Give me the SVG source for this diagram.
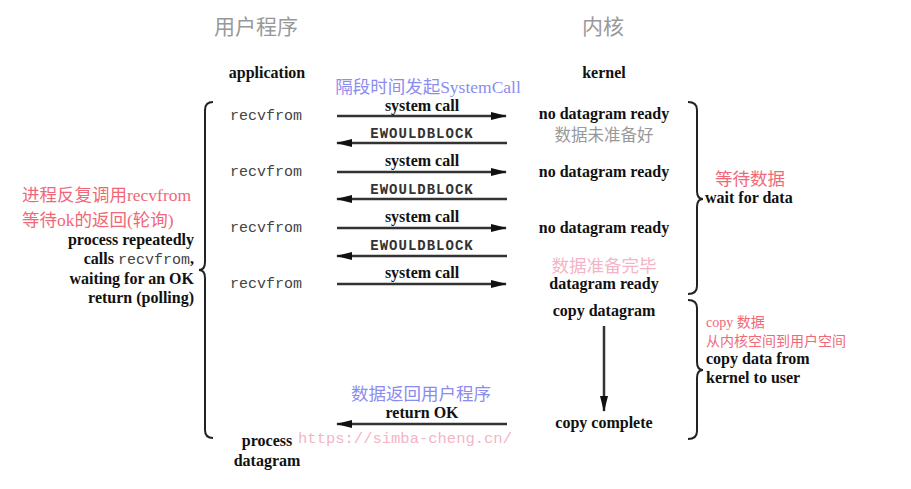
<svg xmlns="http://www.w3.org/2000/svg" width="911" height="489" viewBox="0 0 911 489">
<defs>
<marker id="ah" markerWidth="16" markerHeight="10" refX="15" refY="5" orient="auto" markerUnits="userSpaceOnUse">
<path d="M0,1 L16,5 L0,9 Z" fill="#111"/>
</marker>
<style>
.en{font-family:"Liberation Serif","DejaVu Serif",serif;font-size:16px;font-weight:bold;fill:#111;}
.mono{font-family:"Liberation Mono","DejaVu Sans Mono",monospace;font-size:15px;fill:#444;}
.monob{font-family:"Liberation Mono","DejaVu Sans Mono",monospace;font-size:14px;letter-spacing:1px;font-weight:bold;fill:#333;}
.cg{font-family:"Noto Sans CJK SC",sans-serif;fill:#999;}
.red{font-family:"Liberation Serif","Noto Sans CJK SC",serif;font-size:17.5px;fill:#f06878;}
.reds{font-family:"Liberation Serif","Noto Sans CJK SC",serif;font-size:14px;fill:#f06878;}
.blue{font-family:"Liberation Serif","Noto Sans CJK SC",serif;font-size:17.5px;fill:#8c8cf0;}
.pink{font-family:"Liberation Serif","Noto Sans CJK SC",serif;font-size:17.5px;fill:#f5b4c6;}
.url{font-family:"Liberation Mono","DejaVu Sans Mono",monospace;font-size:15.5px;fill:#f5b4c6;}
.ln{stroke:#333;stroke-width:2.5;fill:none;}
.br{stroke:#222;stroke-width:2;fill:none;}
</style>
</defs>
<rect width="911" height="489" fill="#fff"/>

<g id="headers">
<text class="cg" x="256" y="34" font-size="21" text-anchor="middle">用户程序</text>
<text class="cg" x="603" y="34" font-size="21" text-anchor="middle">内核</text>
<text class="en" x="267" y="78" text-anchor="middle">application</text>
<text class="en" x="604" y="78" text-anchor="middle">kernel</text>
</g>

<g id="app-side">
<text class="mono" x="230" y="120">recvfrom</text>
<text class="mono" x="230" y="176">recvfrom</text>
<text class="mono" x="230" y="232">recvfrom</text>
<text class="mono" x="230" y="288">recvfrom</text>
<text class="en" x="267" y="446" text-anchor="middle">process</text>
<text class="en" x="267" y="466" text-anchor="middle">datagram</text>
</g>

<g id="left-note">
<text class="red" x="22" y="201">进程反复调用recvfrom</text>
<text class="red" x="22" y="226">等待ok的返回(轮询)</text>
<text class="en" x="194" y="245" text-anchor="end">process repeatedly</text>
<text class="en" x="194" y="264" text-anchor="end">calls <tspan class="mono" font-weight="normal">recvfrom</tspan>,</text>
<text class="en" x="194" y="284" text-anchor="end">waiting for an OK</text>
<text class="en" x="194" y="303" text-anchor="end">return (polling)</text>
</g>

<g id="kernel-side">
<text class="en" x="604" y="119" text-anchor="middle">no datagram ready</text>
<text class="cg" x="604" y="141" font-size="16.5" text-anchor="middle">数据未准备好</text>
<text class="en" x="604" y="177" text-anchor="middle">no datagram ready</text>
<text class="en" x="604" y="233" text-anchor="middle">no datagram ready</text>
<text class="pink" x="604" y="272" text-anchor="middle">数据准备完毕</text>
<text class="en" x="604" y="289" text-anchor="middle">datagram ready</text>
<text class="en" x="604" y="316" text-anchor="middle">copy datagram</text>
<text class="en" x="604" y="428" text-anchor="middle">copy complete</text>
</g>

<g id="right-notes">
<text class="red" x="750" y="185" text-anchor="middle">等待数据</text>
<text class="en" x="705" y="203">wait for data</text>
<text class="reds" x="706" y="327">copy 数据</text>
<text class="reds" x="706" y="346">从内核空间到用户空间</text>
<text class="en" x="706" y="364">copy data from</text>
<text class="en" x="706" y="383">kernel to user</text>
</g>

<g id="arrow-labels">
<text class="blue" x="428" y="93" text-anchor="middle">隔段时间发起SystemCall</text>
<text class="en" x="422" y="111" text-anchor="middle">system call</text>
<text class="monob" x="422" y="138" text-anchor="middle">EWOULDBLOCK</text>
<text class="en" x="422" y="166" text-anchor="middle">system call</text>
<text class="monob" x="422" y="194" text-anchor="middle">EWOULDBLOCK</text>
<text class="en" x="422" y="222" text-anchor="middle">system call</text>
<text class="monob" x="422" y="250" text-anchor="middle">EWOULDBLOCK</text>
<text class="en" x="422" y="278" text-anchor="middle">system call</text>
<text class="blue" x="421" y="400" text-anchor="middle">数据返回用户程序</text>
<text class="en" x="422" y="418" text-anchor="middle">return OK</text>
<text class="url" x="405" y="443" text-anchor="middle">https://simba-cheng.cn/</text>
</g>

<g id="connectors">
<line class="ln" x1="337" y1="116" x2="506" y2="116" marker-end="url(#ah)"/>
<line class="ln" x1="507" y1="143" x2="337" y2="143" marker-end="url(#ah)"/>
<line class="ln" x1="337" y1="172" x2="506" y2="172" marker-end="url(#ah)"/>
<line class="ln" x1="507" y1="199" x2="337" y2="199" marker-end="url(#ah)"/>
<line class="ln" x1="337" y1="228" x2="506" y2="228" marker-end="url(#ah)"/>
<line class="ln" x1="507" y1="256" x2="337" y2="256" marker-end="url(#ah)"/>
<line class="ln" x1="337" y1="284" x2="506" y2="284" marker-end="url(#ah)"/>
<line class="ln" x1="507" y1="424" x2="337" y2="424" marker-end="url(#ah)"/>
<line class="ln" x1="604" y1="326" x2="604" y2="411" marker-end="url(#ah)"/>
</g>

<g id="brackets">
<path class="br" d="M213,102 Q205,102 205,110 L205,262 Q205,270 199,270 Q205,270 205,278 L205,430 Q205,438 213,438"/>
<path class="br" d="M688,102 Q697,102 697,110 L697,191 Q697,199 703,199 Q697,199 697,207 L697,286 Q697,294 688,294"/>
<path class="br" d="M688,300 Q697,300 697,308 L697,362 Q697,370 703,370 Q697,370 697,378 L697,431 Q697,439 688,439"/>
</g>
</svg>
